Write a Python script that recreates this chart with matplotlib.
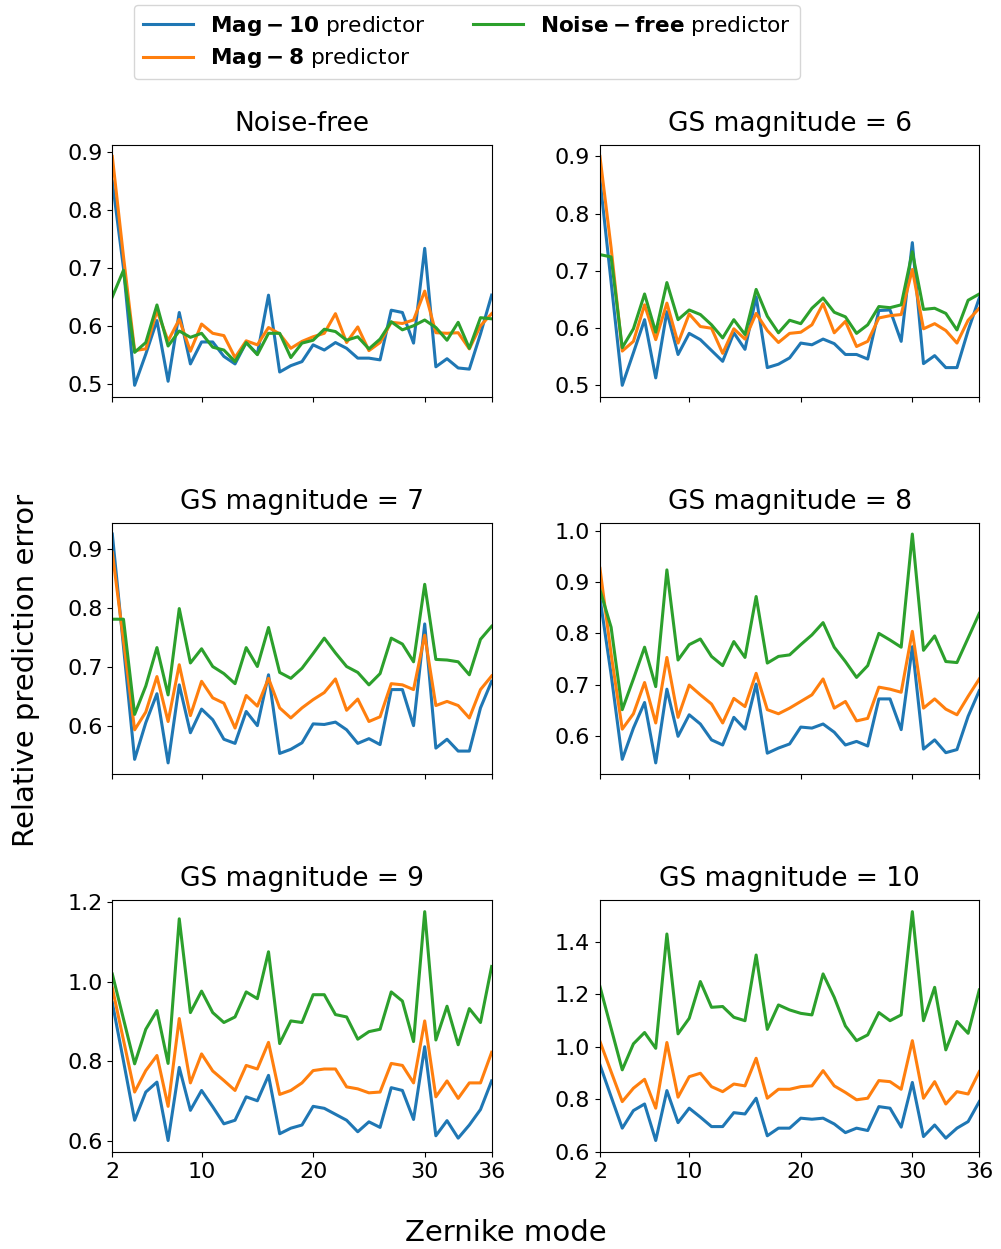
import numpy as np
import matplotlib
matplotlib.use('Agg')
import matplotlib.pyplot as plt

modes = np.arange(2, 37)

titles = ['Noise-free', 'GS magnitude = 6', 'GS magnitude = 7',
          'GS magnitude = 8', 'GS magnitude = 9', 'GS magnitude = 10']
labels = [r'$\bf{Mag-10}$ predictor', r'$\bf{Mag-8}$ predictor', r'$\bf{Noise-free}$ predictor']

# Mag-10 predictor (blue)
mag10_nf = [0.85, 0.70, 0.497, 0.551, 0.609, 0.504, 0.623, 0.534, 0.572, 0.572, 0.547, 0.534, 0.571, 0.551, 0.653, 0.520, 0.531, 0.538, 0.567, 0.558, 0.571, 0.561, 0.544, 0.544, 0.541, 0.627, 0.623, 0.570, 0.734, 0.529, 0.543, 0.527, 0.525, 0.586, 0.653]
mag10_6 = [0.86, 0.68, 0.499, 0.556, 0.614, 0.512, 0.628, 0.553, 0.590, 0.579, 0.560, 0.541, 0.591, 0.562, 0.654, 0.530, 0.536, 0.547, 0.573, 0.570, 0.580, 0.572, 0.553, 0.553, 0.545, 0.630, 0.631, 0.576, 0.749, 0.537, 0.551, 0.530, 0.530, 0.595, 0.652]
mag10_7 = [0.925, 0.735, 0.544, 0.606, 0.655, 0.538, 0.670, 0.589, 0.629, 0.611, 0.578, 0.571, 0.625, 0.601, 0.687, 0.554, 0.561, 0.572, 0.604, 0.603, 0.607, 0.594, 0.571, 0.579, 0.569, 0.662, 0.662, 0.601, 0.773, 0.563, 0.578, 0.558, 0.558, 0.631, 0.676]
mag10_8 = [0.869, 0.72, 0.554, 0.615, 0.665, 0.547, 0.691, 0.599, 0.641, 0.623, 0.592, 0.582, 0.636, 0.613, 0.701, 0.566, 0.576, 0.584, 0.617, 0.615, 0.623, 0.607, 0.582, 0.589, 0.580, 0.672, 0.672, 0.612, 0.774, 0.574, 0.592, 0.567, 0.573, 0.638, 0.688]
mag10_9 = [0.947, 0.80, 0.651, 0.722, 0.747, 0.600, 0.784, 0.676, 0.726, 0.685, 0.642, 0.651, 0.710, 0.700, 0.764, 0.617, 0.631, 0.639, 0.686, 0.681, 0.666, 0.651, 0.622, 0.647, 0.633, 0.733, 0.726, 0.653, 0.836, 0.612, 0.650, 0.606, 0.639, 0.678, 0.750]
mag10_10 = [0.931, 0.810, 0.690, 0.757, 0.782, 0.643, 0.833, 0.711, 0.766, 0.732, 0.696, 0.696, 0.749, 0.744, 0.804, 0.661, 0.690, 0.690, 0.728, 0.724, 0.728, 0.706, 0.673, 0.690, 0.681, 0.772, 0.766, 0.694, 0.864, 0.658, 0.702, 0.652, 0.690, 0.715, 0.791]

# Mag-8 predictor (orange)
mag8_nf = [0.893, 0.72, 0.557, 0.560, 0.626, 0.574, 0.611, 0.556, 0.603, 0.587, 0.583, 0.545, 0.574, 0.567, 0.597, 0.586, 0.561, 0.573, 0.581, 0.587, 0.621, 0.571, 0.598, 0.557, 0.571, 0.606, 0.604, 0.610, 0.660, 0.588, 0.587, 0.588, 0.560, 0.600, 0.621]
mag8_6 = [0.90, 0.74, 0.559, 0.576, 0.640, 0.579, 0.643, 0.573, 0.624, 0.602, 0.599, 0.555, 0.598, 0.580, 0.625, 0.595, 0.574, 0.590, 0.592, 0.605, 0.642, 0.591, 0.611, 0.567, 0.576, 0.617, 0.621, 0.623, 0.702, 0.598, 0.607, 0.595, 0.573, 0.613, 0.634]
mag8_7 = [0.894, 0.745, 0.594, 0.624, 0.684, 0.608, 0.704, 0.618, 0.676, 0.648, 0.639, 0.597, 0.652, 0.634, 0.681, 0.631, 0.614, 0.631, 0.645, 0.657, 0.680, 0.627, 0.646, 0.608, 0.616, 0.672, 0.670, 0.662, 0.754, 0.635, 0.642, 0.635, 0.614, 0.662, 0.685]
mag8_8 = [0.927, 0.76, 0.613, 0.643, 0.704, 0.625, 0.753, 0.636, 0.699, 0.680, 0.662, 0.625, 0.673, 0.657, 0.722, 0.651, 0.643, 0.654, 0.667, 0.680, 0.711, 0.654, 0.667, 0.629, 0.634, 0.695, 0.691, 0.685, 0.804, 0.654, 0.672, 0.652, 0.641, 0.677, 0.711]
mag8_9 = [0.984, 0.853, 0.722, 0.776, 0.814, 0.686, 0.907, 0.745, 0.818, 0.775, 0.751, 0.726, 0.789, 0.780, 0.847, 0.716, 0.726, 0.745, 0.776, 0.780, 0.780, 0.735, 0.730, 0.720, 0.722, 0.794, 0.789, 0.745, 0.901, 0.710, 0.750, 0.706, 0.745, 0.745, 0.822]
mag8_10 = [1.020, 0.905, 0.791, 0.842, 0.876, 0.766, 1.016, 0.808, 0.886, 0.899, 0.848, 0.829, 0.858, 0.851, 0.956, 0.804, 0.838, 0.838, 0.848, 0.851, 0.909, 0.851, 0.826, 0.798, 0.804, 0.871, 0.867, 0.838, 1.023, 0.804, 0.867, 0.782, 0.829, 0.820, 0.905]

# Noise-free predictor (green)
nf_nf = [0.650, 0.696, 0.554, 0.571, 0.636, 0.565, 0.591, 0.580, 0.587, 0.563, 0.558, 0.538, 0.571, 0.550, 0.587, 0.587, 0.545, 0.570, 0.575, 0.594, 0.590, 0.575, 0.581, 0.560, 0.577, 0.607, 0.593, 0.600, 0.610, 0.597, 0.575, 0.606, 0.561, 0.614, 0.612]
nf_6 = [0.728, 0.724, 0.565, 0.598, 0.659, 0.592, 0.679, 0.614, 0.631, 0.623, 0.605, 0.582, 0.614, 0.588, 0.667, 0.620, 0.591, 0.613, 0.607, 0.634, 0.652, 0.627, 0.619, 0.590, 0.605, 0.637, 0.635, 0.640, 0.733, 0.632, 0.634, 0.625, 0.596, 0.648, 0.659]
nf_7 = [0.781, 0.781, 0.620, 0.668, 0.733, 0.653, 0.799, 0.707, 0.731, 0.701, 0.689, 0.672, 0.733, 0.701, 0.767, 0.691, 0.681, 0.698, 0.723, 0.749, 0.724, 0.701, 0.691, 0.670, 0.689, 0.749, 0.739, 0.709, 0.840, 0.713, 0.712, 0.709, 0.687, 0.747, 0.769]
nf_8 = [0.885, 0.812, 0.651, 0.711, 0.773, 0.696, 0.924, 0.748, 0.778, 0.789, 0.755, 0.737, 0.784, 0.753, 0.872, 0.742, 0.755, 0.758, 0.778, 0.797, 0.821, 0.773, 0.745, 0.714, 0.737, 0.800, 0.787, 0.773, 0.994, 0.767, 0.795, 0.745, 0.743, 0.791, 0.839]
nf_9 = [1.019, 0.906, 0.793, 0.880, 0.927, 0.794, 1.158, 0.922, 0.976, 0.922, 0.897, 0.911, 0.974, 0.957, 1.075, 0.844, 0.901, 0.897, 0.967, 0.967, 0.917, 0.911, 0.855, 0.874, 0.880, 0.974, 0.951, 0.849, 1.176, 0.853, 0.938, 0.841, 0.932, 0.897, 1.038]
nf_10 = [1.229, 1.070, 0.912, 1.011, 1.054, 0.994, 1.429, 1.049, 1.108, 1.248, 1.150, 1.153, 1.112, 1.099, 1.349, 1.066, 1.159, 1.140, 1.127, 1.121, 1.277, 1.188, 1.079, 1.023, 1.045, 1.130, 1.099, 1.121, 1.514, 1.099, 1.226, 0.988, 1.096, 1.051, 1.216]

mag10 = [mag10_nf, mag10_6, mag10_7, mag10_8, mag10_9, mag10_10]
mag8 = [mag8_nf, mag8_6, mag8_7, mag8_8, mag8_9, mag8_10]
noisefree = [nf_nf, nf_6, nf_7, nf_8, nf_9, nf_10]

plt.rcParams['font.size'] = 16

fig, axs = plt.subplots(3, 2, figsize=(10.01, 12.49), dpi=100, sharex=True)
fig.subplots_adjust(left=0.1122, right=0.9783, bottom=0.0777, top=0.8839, wspace=0.2855, hspace=0.5)

for k, ax in enumerate(axs.flat):
    l1, = ax.plot(modes, mag10[k], lw=2.2)
    l2, = ax.plot(modes, mag8[k], lw=2.2)
    l3, = ax.plot(modes, noisefree[k], lw=2.2)
    ax.set_title(titles[k], fontsize=19, pad=10)
    ax.set_xlim(2, 36)
    ax.set_xticks([2, 10, 20, 30, 36])

fig.legend([l1, l2, l3], labels, ncol=2, loc='upper left', borderaxespad=0,
           bbox_to_anchor=(0.134, 0.996), fontsize=15.6, handlelength=2.3,
           columnspacing=2.2, labelspacing=0.4)
fig.text(0.505, 0.0128, 'Zernike mode', ha='center', va='center', fontsize=21)
fig.text(0.012, 0.463, 'Relative prediction error', ha='left', va='center',
         rotation=90, fontsize=21)

fig.savefig('out.png', dpi=100)
